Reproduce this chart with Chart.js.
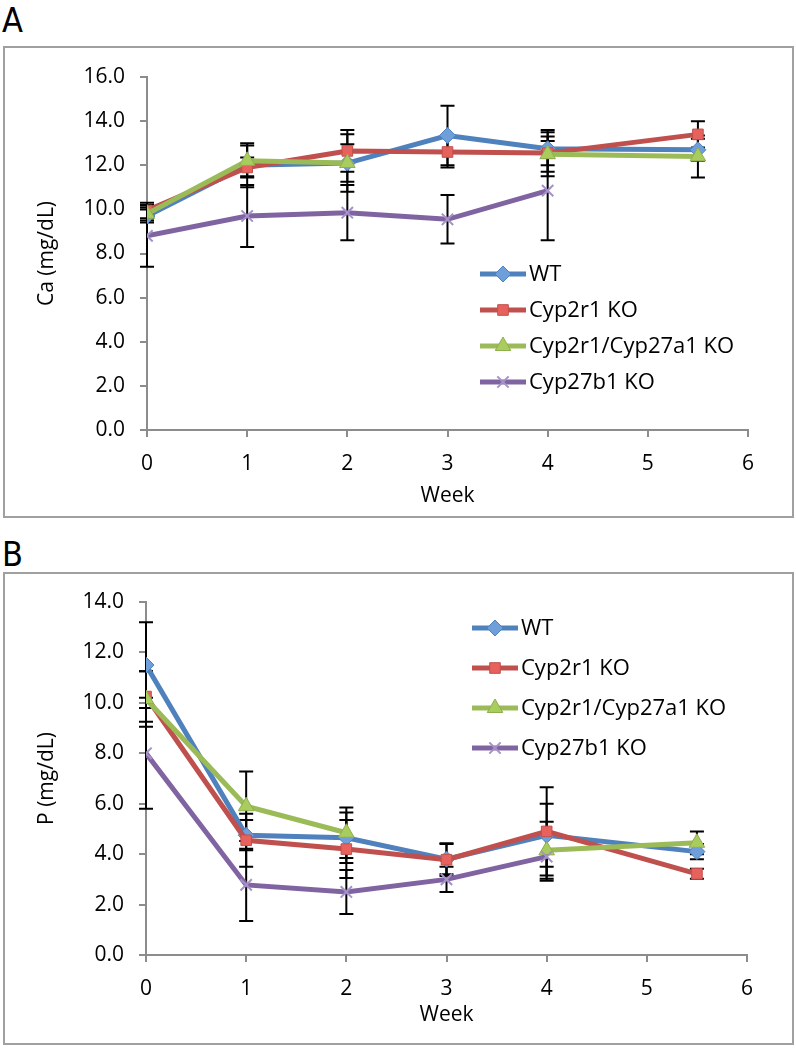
<!DOCTYPE html>
<html>
<head>
<meta charset="utf-8">
<script src="https://cdn.jsdelivr.net/npm/chart.js@4.4.1/dist/chart.umd.min.js"></script>
<style>
  body { margin: 0; background: #fff; width: 796px; height: 1049px; position: relative; overflow: hidden; font-family: 'Open Sans', sans-serif; }
  .panel-label { position: absolute; left: 2px; font-family: 'DejaVu Sans Condensed', 'DejaVu Sans', sans-serif; font-size: 34px; color: #000; line-height: 1; }
  .box { position: absolute; left: 3px; width: 787px; border: 2px solid #a0a0a0; }
  canvas { position: absolute; left: 0; top: 0; }
</style>
</head>
<body>
<div class="panel-label" style="top:3px">A</div>
<div class="box" style="top:46px;height:468px"><canvas id="chartA" width="787" height="468"></canvas></div>
<div class="panel-label" style="top:537px">B</div>
<div class="box" style="top:572px;height:469px"><canvas id="chartB" width="787" height="469"></canvas></div>
<script>
// x positions (weeks)
const weeks = [0, 1, 2, 3, 4, 5.5];
const seriesNames = ['WT', 'Cyp2r1 KO', 'Cyp2r1/Cyp27a1 KO', 'Cyp27b1 KO'];

// Panel A - Ca (mg/dL)
const caWT = [9.7, 12.0, 12.1, 13.35, 12.75, 12.7];
const caCyp2r1 = [9.95, 11.9, 12.65, 12.6, 12.55, 13.4];
const caDouble = [9.8, 12.2, 12.1, null, 12.5, 12.4];
const caCyp27b1 = [8.8, 9.7, 9.85, 9.55, 10.85, null];
const caErrWT = [0.3, 1.0, 1.3, 1.35, 0.75, 0.5];
const caErrCyp2r1 = [0.35, 0.45, 0.95, 0.7, 1.05, 0.6];
const caErrDouble = [0.3, 0.7, 0.85, null, 0.8, 0.95];
const caErrCyp27b1 = [1.4, 1.4, 1.25, 1.1, 2.25, null];

// Panel B - P (mg/dL)
const pWT = [11.5, 4.75, 4.65, 3.8, 4.75, 4.1];
const pCyp2r1 = [10.25, 4.55, 4.2, 3.78, 4.9, 3.22];
const pDouble = [10.15, 5.9, 4.85, null, 4.15, 4.45];
const pCyp27b1 = [8.0, 2.78, 2.5, 3.0, 3.9, null];
const pErrWT = [1.7, 0.6, 1.0, 0.6, 1.25, 0.3];
const pErrCyp2r1 = [1.0, 1.05, 1.15, 0.65, 1.75, 0.2];
const pErrDouble = [1.1, 1.38, 1.0, null, 1.13, 0.45];
const pErrCyp27b1 = [2.2, 1.43, 0.87, 0.5, 0.96, null];

const FONT = "'Open Sans', sans-serif";
const FONT_SIZE = 21;
const AXIS_GRAY = '#8c8c8c';

// series look, same order as seriesNames
const styles = [
  { line: '#4F81BD', fill: '#6E9FDB', edge: '#4F81BD', point: 'rectRot', radius: 8 },
  { line: '#C0504D', fill: '#E8625D', edge: '#C0504D', point: 'rect', radius: 7.5 },
  { line: '#9BBB59', fill: '#A9CC5E', edge: '#8FAE4E', point: 'triangle', radius: 9 },
  { line: '#8064A2', fill: '#A592C8', edge: '#A592C8', point: 'crossRot', radius: 8 }
];

const toPoints = (vals, errs) => weeks.map((w, i) => ({ x: w, y: vals[i], err: errs[i] }));

const makeDatasets = (valueSets, errSets) => valueSets.map((vals, i) => ({
  label: seriesNames[i],
  data: toPoints(vals, errSets[i]),
  borderColor: styles[i].line,
  backgroundColor: styles[i].fill,
  borderWidth: 5,
  pointStyle: styles[i].point,
  pointRadius: styles[i].radius,
  pointBackgroundColor: styles[i].fill,
  pointBorderColor: styles[i].edge,
  pointBorderWidth: i === 3 ? 2 : 1,
  spanGaps: false,
  order: 4 - i
}));

// Error bars drawn under the series lines
const errorBars = {
  id: 'errorBars',
  beforeDatasetsDraw(chart) {
    const { ctx, scales: { x, y } } = chart;
    ctx.save();
    ctx.strokeStyle = '#000';
    ctx.lineWidth = 2;
    chart.data.datasets.forEach(ds => {
      ds.data.forEach(p => {
        if (p.y == null || p.err == null) return;
        const px = x.getPixelForValue(p.x);
        const top = y.getPixelForValue(p.y + p.err);
        const bot = y.getPixelForValue(p.y - p.err);
        ctx.beginPath();
        ctx.moveTo(px, top); ctx.lineTo(px, bot);
        ctx.moveTo(px - 7, top); ctx.lineTo(px + 7, top);
        ctx.moveTo(px - 7, bot); ctx.lineTo(px + 7, bot);
        ctx.stroke();
      });
    });
    ctx.restore();
  }
};

// Legend drawn inside the plot area like the original
const insideLegend = {
  id: 'insideLegend',
  afterDraw(chart, args, opts) {
    const { ctx } = chart;
    ctx.save();
    ctx.font = '22px ' + FONT;
    ctx.textBaseline = 'middle';
    chart.data.datasets.forEach((ds, i) => {
      const yy = opts.y + i * opts.gap;
      ctx.strokeStyle = ds.borderColor;
      ctx.lineWidth = 5;
      ctx.beginPath();
      ctx.moveTo(opts.x, yy); ctx.lineTo(opts.x + 46, yy);
      ctx.stroke();
      ctx.fillStyle = ds.pointBackgroundColor;
      ctx.strokeStyle = ds.pointBorderColor;
      ctx.lineWidth = ds.pointBorderWidth;
      Chart.helpers.drawPoint(ctx, { pointStyle: ds.pointStyle, radius: ds.pointRadius, rotation: 0, borderWidth: ds.pointBorderWidth }, opts.x + 23, yy);
      ctx.fillStyle = '#000';
      ctx.fillText(ds.label, opts.x + 49, yy + 1);
    });
    ctx.restore();
  }
};

const makeChart = (id, datasets, yMax, yTitle, legendPos, pad) => new Chart(document.getElementById(id), {
  type: 'line',
  data: { datasets },
  plugins: [errorBars, insideLegend],
  options: {
    responsive: false,
    animation: false,
    layout: { padding: { top: pad.top, right: pad.right, left: 0, bottom: 0 } },
    plugins: {
      legend: { display: false },
      tooltip: { enabled: false },
      insideLegend: legendPos
    },
    scales: {
      x: {
        type: 'linear',
        min: 0,
        max: 6,
        ticks: { stepSize: 1, color: '#000', font: { family: FONT, size: FONT_SIZE }, padding: 14 },
        grid: { drawOnChartArea: false, color: AXIS_GRAY, tickLength: 7, lineWidth: 2 },
        border: { color: AXIS_GRAY, width: 2 },
        title: { display: true, text: 'Week', color: '#000', font: { family: FONT, size: FONT_SIZE }, padding: { top: 0, bottom: pad.titleX } },
        afterFit: s => { s.height = pad.xh; }
      },
      y: {
        min: 0,
        max: yMax,
        ticks: { stepSize: 2, color: '#000', font: { family: FONT, size: FONT_SIZE }, padding: 15, callback: v => v.toFixed(1) },
        grid: { drawOnChartArea: false, color: AXIS_GRAY, tickLength: 7, lineWidth: 2 },
        border: { color: AXIS_GRAY, width: 2 },
        title: { display: true, text: yTitle, color: '#000', font: { family: FONT, size: FONT_SIZE }, padding: { top: 29, bottom: 0 } },
        afterFit: s => { s.width = pad.yw; }
      }
    }
  }
});

makeChart('chartA',
  makeDatasets([caWT, caCyp2r1, caDouble, caCyp27b1], [caErrWT, caErrCyp2r1, caErrDouble, caErrCyp27b1]),
  16, 'Ca (mg/dL)', { x: 475, y: 226, gap: 36 },
  { top: 29, right: 44, yw: 142, xh: 86, titleX: 7 });

makeChart('chartB',
  makeDatasets([pWT, pCyp2r1, pDouble, pCyp27b1], [pErrWT, pErrCyp2r1, pErrDouble, pErrCyp27b1]),
  14, 'P (mg/dL)', { x: 467, y: 54, gap: 40 },
  { top: 28, right: 45, yw: 141, xh: 88, titleX: 15 });
</script>
</body>
</html>
